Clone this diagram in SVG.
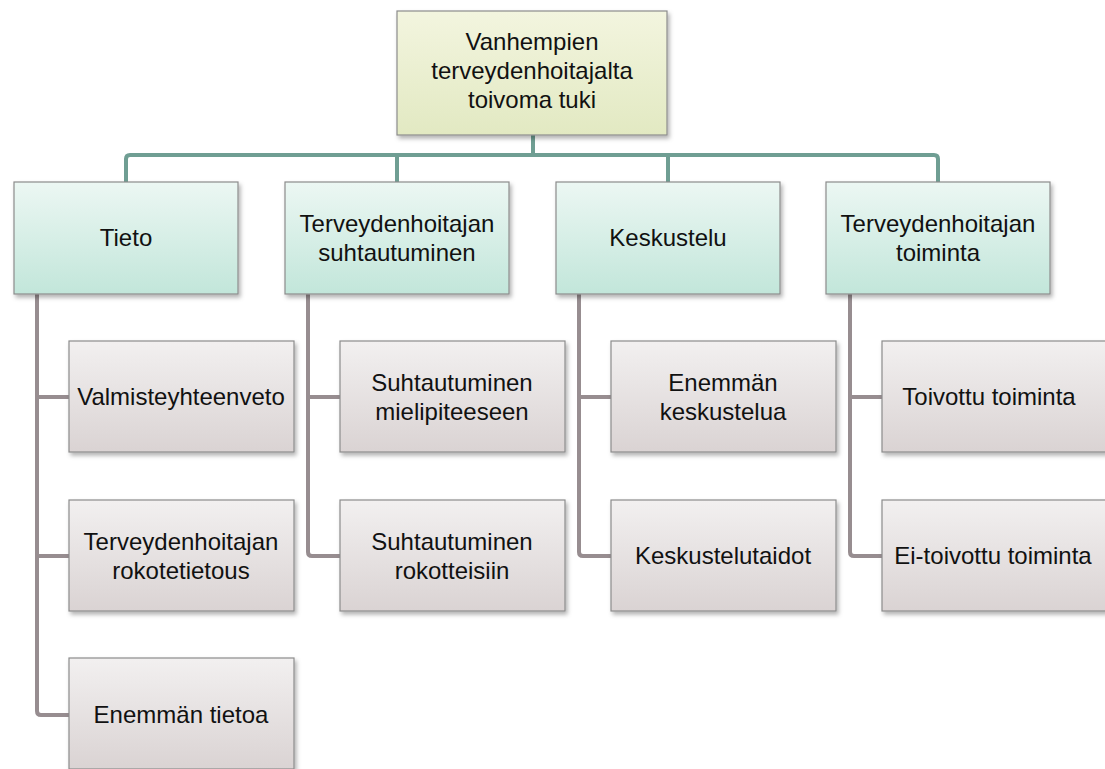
<svg xmlns="http://www.w3.org/2000/svg" width="1105" height="769" viewBox="0 0 1105 769">
<style>
text{font-family:"Liberation Sans",Arial,sans-serif;font-size:24px;fill:#111;text-anchor:middle}
.box{stroke:#8c8c8c;stroke-width:1.2;filter:url(#sh)}
.r{fill:url(#gR)}
.l1{fill:url(#g1)}
.l2{fill:url(#g2)}
.ct{fill:none;stroke:#6f9e93;stroke-width:4;stroke-linejoin:round}
.cg{fill:none;stroke:#978d90;stroke-width:4;stroke-linejoin:round}
</style>
<defs>
<linearGradient id="gR" x1="0" y1="0" x2="0" y2="1"><stop offset="0" stop-color="#f3f5df"/><stop offset="1" stop-color="#e2e9c2"/></linearGradient>
<linearGradient id="g1" x1="0" y1="0" x2="0" y2="1"><stop offset="0" stop-color="#ecf7f3"/><stop offset="1" stop-color="#c2e6da"/></linearGradient>
<linearGradient id="g2" x1="0" y1="0" x2="0" y2="1"><stop offset="0" stop-color="#f2f0f0"/><stop offset="1" stop-color="#dad3d3"/></linearGradient>
<filter id="sh" x="-10%" y="-10%" width="125%" height="130%"><feDropShadow dx="2" dy="3" stdDeviation="2" flood-color="#000" flood-opacity="0.3"/></filter>
</defs>
<g id="connectors">
<path class="ct" d="M533 135V155"/>
<path class="ct" d="M126 182V159Q126 155 130 155H934Q938 155 938 159V182"/>
<path class="ct" d="M397 155V182M668 155V182"/>
<path class="cg" d="M37 294V711Q37 715 41 715H69M37 397H69M37 556H69"/>
<path class="cg" d="M308 294V552Q308 556 312 556H340M308 397H340"/>
<path class="cg" d="M579 294V552Q579 556 583 556H611M579 397H611"/>
<path class="cg" d="M850 294V552Q850 556 854 556H882M850 397H882"/>
</g>
<g id="root"><rect class="box r" x="397" y="11" width="270" height="124"/><text x="532" y="50">Vanhempien</text><text x="532" y="79">terveydenhoitajalta</text><text x="532" y="108">toivoma tuki</text></g>
<g id="tieto"><rect class="box l1" x="14" y="182" width="224" height="112"/><text x="126" y="246">Tieto</text></g>
<g id="suhtautuminen"><rect class="box l1" x="285" y="182" width="224" height="112"/><text x="397" y="232">Terveydenhoitajan</text><text x="397" y="261">suhtautuminen</text></g>
<g id="keskustelu"><rect class="box l1" x="556" y="182" width="224" height="112"/><text x="668" y="246">Keskustelu</text></g>
<g id="toiminta"><rect class="box l1" x="826" y="182" width="224" height="112"/><text x="938" y="232">Terveydenhoitajan</text><text x="938" y="261">toiminta</text></g>
<g id="valmiste"><rect class="box l2" x="69" y="341" width="225" height="111"/><text x="181" y="405">Valmisteyhteenveto</text></g>
<g id="rokotetietous"><rect class="box l2" x="69" y="500" width="225" height="111"/><text x="181" y="550">Terveydenhoitajan</text><text x="181" y="579">rokotetietous</text></g>
<g id="enemman-tietoa"><rect class="box l2" x="69" y="658" width="225" height="111"/><text x="181" y="723">Enemmän tietoa</text></g>
<g id="mielipiteeseen"><rect class="box l2" x="340" y="341" width="225" height="111"/><text x="452" y="391">Suhtautuminen</text><text x="452" y="420">mielipiteeseen</text></g>
<g id="rokotteisiin"><rect class="box l2" x="340" y="500" width="225" height="111"/><text x="452" y="550">Suhtautuminen</text><text x="452" y="579">rokotteisiin</text></g>
<g id="enemman-keskustelua"><rect class="box l2" x="611" y="341" width="225" height="111"/><text x="723" y="391">Enemmän</text><text x="723" y="420">keskustelua</text></g>
<g id="keskustelutaidot"><rect class="box l2" x="611" y="500" width="225" height="111"/><text x="723" y="564">Keskustelutaidot</text></g>
<g id="toivottu"><rect class="box l2" x="882" y="341" width="225" height="111"/><text x="989" y="405">Toivottu toiminta</text></g>
<g id="ei-toivottu"><rect class="box l2" x="882" y="500" width="225" height="111"/><text x="993" y="564">Ei-toivottu toiminta</text></g>
</svg>
